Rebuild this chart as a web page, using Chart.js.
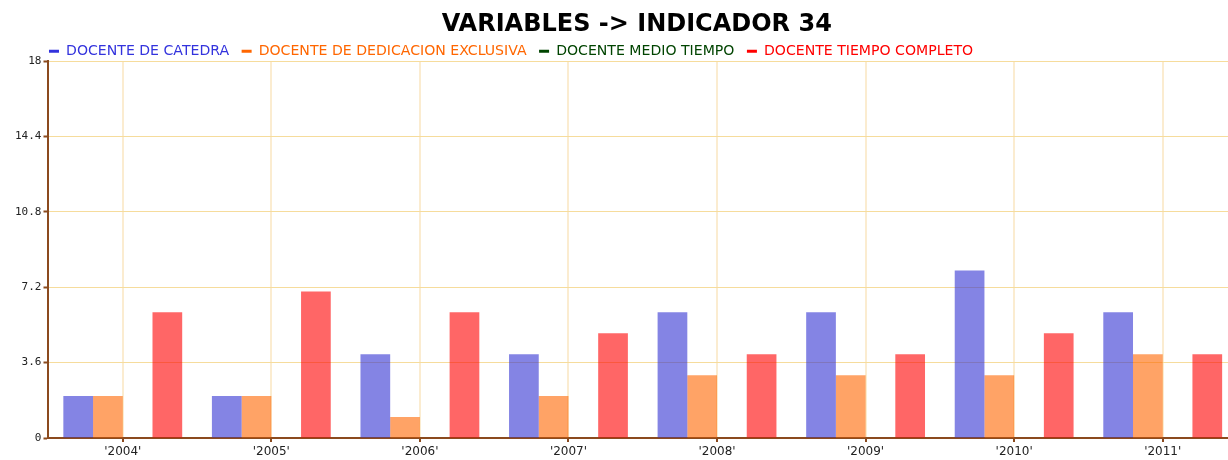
<!DOCTYPE html>
<html>
<head>
<meta charset="utf-8">
<script src="https://cdn.jsdelivr.net/npm/chart.js@4/dist/chart.umd.min.js"></script>
<style>
  html, body { margin: 0; padding: 0; background: #fff; overflow: hidden; }
  #wrap { width: 1240px; height: 462px; }
</style>
</head>
<body>
<div id="wrap"><canvas id="c"></canvas></div>
<script>
// Data
const years = ["'2004'", "'2005'", "'2006'", "'2007'", "'2008'", "'2009'", "'2010'", "'2011'"]
const catedra = [2, 2, 4, 4, 6, 6, 8, 6]
const dedicacion = [2, 2, 1, 2, 3, 3, 3, 4]
const medioTiempo = [0, 0, 0, 0, 0, 0, 0, 0]
const tiempoCompleto = [6, 7, 6, 5, 4, 4, 5, 4]
const yTicks = [0, 3.6, 7.2, 10.8, 14.4, 18]

const brown = '#8b4a1e'

function series(label, data, color, fill) {
  return {
    label: label,
    data: data,
    backgroundColor: fill,
    borderWidth: 0,
    legendColor: color,
    categoryPercentage: 0.8,
    barPercentage: 1.0
  }
}

// nudge legend / title boxes to where the original puts them
const boxShift = {
  id: 'boxShift',
  afterLayout(c) {
    c.legend.left -= 12
    c.legend.right -= 12
    c.legend.top -= 4
    c.legend.bottom -= 4
    c.titleBlock.left -= 6
    c.titleBlock.right -= 6
  }
}

const chart = new Chart(document.getElementById('c'), {
  type: 'bar',
  data: {
    labels: years,
    datasets: [
      series('DOCENTE DE CATEDRA', catedra, '#3333dd', 'rgba(50,50,210,0.6)'),
      series('DOCENTE DE DEDICACION EXCLUSIVA', dedicacion, '#ff6600', 'rgba(255,102,0,0.6)'),
      series('DOCENTE MEDIO TIEMPO', medioTiempo, '#004400', 'rgba(0,68,0,0.6)'),
      series('DOCENTE TIEMPO COMPLETO', tiempoCompleto, '#ff0000', 'rgba(255,0,0,0.6)')
    ]
  },
  plugins: [boxShift],
  options: {
    responsive: true,
    maintainAspectRatio: false,
    animation: false,
    layout: { padding: { left: 13, right: 3, top: 0, bottom: 0 } },
    plugins: {
      title: {
        display: true,
        text: 'VARIABLES -> INDICADOR 34',
        color: '#000',
        font: { family: 'DejaVu Sans', size: 24, weight: 'bold', lineHeight: 0.9 },
        padding: { top: 14, bottom: 0 },
        fullSize: false
      },
      legend: {
        display: true,
        align: 'start',
        fullSize: false,
        maxHeight: 25.5,
        labels: {
          font: { family: 'DejaVu Sans', size: 14.1 },
          usePointStyle: true,
          pointStyle: 'line',
          pointStyleWidth: 10,
          padding: 12.5,
          generateLabels: (c) => c.data.datasets.map((ds, i) => ({
            text: ds.label,
            fontColor: ds.legendColor,
            strokeStyle: ds.legendColor,
            fillStyle: ds.legendColor,
            lineWidth: 3,
            pointStyle: 'line',
            datasetIndex: i,
            hidden: false
          }))
        }
      },
      tooltip: { enabled: false }
    },
    scales: {
      x: {
        grid: {
          offset: false,
          color: '#fbecd0',
          lineWidth: 2,
          tickColor: brown,
          tickLength: 4,
          tickWidth: 2
        },
        border: { color: brown, width: 2 },
        ticks: {
          color: '#222',
          font: { family: 'DejaVu Sans', size: 12, lineHeight: 1 },
          padding: 4,
          maxRotation: 0
        }
      },
      y: {
        min: 0,
        max: 18,
        afterBuildTicks: (axis) => { axis.ticks = yTicks.map(v => ({ value: v })) },
        grid: {
          color: '#f6dc9c',
          lineWidth: 1,
          tickColor: brown,
          tickLength: 5,
          tickWidth: 2
        },
        border: { color: brown, width: 2 },
        ticks: {
          color: '#222',
          font: { family: 'DejaVu Sans Mono', size: 11 },
          padding: 2,
          callback: (v) => String(v)
        }
      }
    }
  }
})
</script>
</body>
</html>
